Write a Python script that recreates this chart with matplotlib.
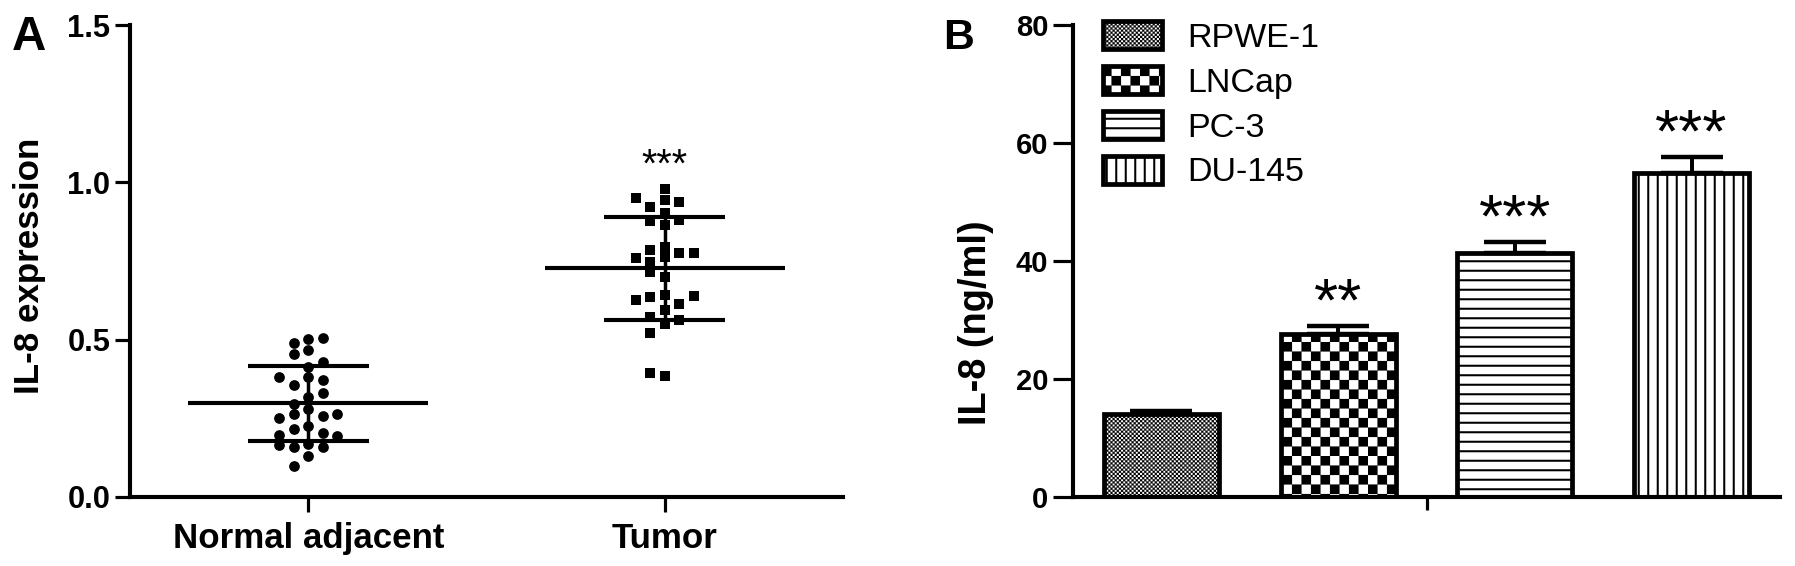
import warnings
import numpy as np
import matplotlib
matplotlib.use('Agg')
from matplotlib import pyplot as plt
from matplotlib import hatch as mhatch
from matplotlib.path import Path

warnings.filterwarnings('ignore', message='hatch must consist')

# panel A: IL-8 expression per sample
groups = ['Normal adjacent', 'Tumor']
normal_adjacent = [0.501, 0.467, 0.488, 0.504, 0.454, 0.414, 0.430, 0.380, 0.356, 0.372,
                   0.382, 0.319, 0.329, 0.296, 0.279, 0.263, 0.257, 0.226, 0.250, 0.263,
                   0.215, 0.202, 0.197, 0.168, 0.160, 0.160, 0.165, 0.194, 0.130, 0.099]
tumor = [0.978, 0.944, 0.922, 0.938, 0.949, 0.903, 0.877, 0.864, 0.880, 0.795,
         0.785, 0.774, 0.762, 0.748, 0.758, 0.776, 0.700, 0.716, 0.642, 0.636,
         0.612, 0.626, 0.639, 0.594, 0.573, 0.562, 0.550, 0.520, 0.385, 0.393]

# panel B: IL-8 secretion per cell line
cell_lines = ['RPWE-1', 'LNCap', 'PC-3', 'DU-145']
il8_mean = [14.0, 27.6, 41.4, 54.9]
il8_err = [0.5, 1.4, 1.8, 2.7]
bar_stars = ['', '**', '***', '***']


class CheckerHatch(mhatch.HatchPatternBase):
    # 'c' -> filled checkerboard, 6 cells per inch per 'c'
    def __init__(self, hatch, density):
        self.n = 2 * (hatch.count('c') * density // 2)
        self.num_vertices = self.n * self.n // 2 * 5

    def set_vertices_and_codes(self, vertices, codes):
        n = self.n
        sq = np.array([[0, 0], [1, 0], [1, 1], [0, 1], [0, 0]], float) / n
        cells = [sq + [i / n, j / n] for i in range(n) for j in range(n) if (i + j) % 2 == 0]
        vertices[:] = np.concatenate(cells)
        codes[:] = np.tile([Path.MOVETO, Path.LINETO, Path.LINETO, Path.LINETO,
                            Path.CLOSEPOLY], len(cells))


mhatch._hatch_types.append(CheckerHatch)


def swarm(vals, dy, dx):
    placed = []
    offs = []
    for v in vals:
        for k in [0, -1, 1, -2, 2, -3, 3, -4, 4]:
            if all(abs(v - pv) >= dy for pk, pv in placed if pk == k):
                break
        placed.append((k, v))
        offs.append(k * dx)
    return np.array(offs)


DPI = 114
W, H = 1795, 566
plt.rcParams['font.family'] = 'Liberation Sans'
plt.rcParams['hatch.linewidth'] = 1.2

fig = plt.figure(figsize=(W / DPI, H / DPI), dpi=DPI)


def box(l, t, r, b):
    return [l / W, 1 - b / H, (r - l) / W, (b - t) / H]


axA = fig.add_axes(box(130, 25, 843, 497))
axB = fig.add_axes(box(1073, 25, 1780, 497))

for i, (vals, mk, ms) in enumerate(zip([normal_adjacent, tumor], ['o', 's'], [46, 42])):
    vals = np.array(vals)
    xs = i + swarm(vals, 0.032, 0.0406)
    axA.scatter(xs, vals, marker=mk, s=ms, color='black', linewidths=0, zorder=3)
    m, sd = vals.mean(), vals.std(ddof=1)
    axA.hlines(m, i - 0.336, i + 0.336, color='black', lw=2.6, zorder=4)
    axA.hlines([m - sd, m + sd], i - 0.17, i + 0.17, color='black', lw=2.6, zorder=4)
    axA.vlines(i, m - sd, m + sd, color='black', lw=2.2, zorder=4)

axA.text(1, max(tumor) + 0.04, '***', ha='center', va='baseline', fontsize=25)

axA.set_xlim(-0.5, 1.5)
axA.set_ylim(0, 1.5)
axA.set_xticks(range(len(groups)))
axA.set_xticklabels(groups, fontsize=22, fontweight='bold')
axA.set_yticks([0, 0.5, 1.0, 1.5])
axA.set_yticklabels(['0.0', '0.5', '1.0', '1.5'], fontsize=19.5, fontweight='bold')
axA.tick_params(axis='y', length=9.5, width=2, pad=3)
axA.tick_params(axis='x', length=9.5, width=2, pad=6)
axA.set_ylabel('IL-8 expression', fontsize=22, fontweight='bold')
axA.yaxis.set_label_coords(-0.118, 0.49)

# panel B
x = np.arange(len(cell_lines))
bars = axB.bar(x, il8_mean, width=0.65, color='white', edgecolor='black', linewidth=3, zorder=2)
for b, h, hl in zip(bars, ['ccccccccc', 'cc', '--', '||'], [0.1, 0.1, 1.3, 1.3]):
    b.set_hatch(h)
    if hasattr(b, 'set_hatch_linewidth'):
        b.set_hatch_linewidth(hl)

axB.errorbar(x, il8_mean, yerr=[np.zeros(len(x)), il8_err], fmt='none', ecolor='black',
             elinewidth=2.5, capsize=19.5, capthick=2.8, zorder=3)

for xi, mval, err, s in zip(x, il8_mean, il8_err, bar_stars):
    axB.text(xi, mval + err + 1.0, s, ha='center', va='baseline', fontsize=39)

axB.set_xlim(-0.5, 3.5)
axB.set_ylim(0, 80)
axB.set_xticks([1.5])
axB.set_xticklabels([''])
axB.set_yticks(range(0, 81, 20))
axB.set_yticklabels([str(v) for v in range(0, 81, 20)], fontsize=18.5, fontweight='bold')
axB.tick_params(axis='y', length=12.5, width=2, pad=3)
axB.tick_params(axis='x', length=8, width=2)
axB.set_ylabel('IL-8 (ng/ml)', fontsize=24, fontweight='bold')
axB.yaxis.set_label_coords(-0.112, 0.37)

leg = axB.legend(bars, cell_lines, loc='upper left', bbox_to_anchor=(1103 / W, 1 - 21 / H),
                 bbox_transform=fig.transFigure, frameon=False, fontsize=21.5,
                 handlelength=1.74, handleheight=0.88, handletextpad=0.73, labelspacing=0.36,
                 borderpad=0, borderaxespad=0)
for lh, b in zip(leg.legend_handles, bars):
    if hasattr(lh, 'set_hatch_linewidth'):
        lh.set_hatch_linewidth(b.get_hatch_linewidth())

for ax in [axA, axB]:
    for side in ['top', 'right']:
        ax.spines[side].set_visible(False)
    for side in ['left', 'bottom']:
        ax.spines[side].set_linewidth(2.6)
        ax.spines[side].set_zorder(5)

fig.text(12 / W, 1 - 50 / H, 'A', fontsize=30, fontweight='bold', ha='left', va='baseline')
fig.text(943 / W, 1 - 49 / H, 'B', fontsize=27, fontweight='bold', ha='left', va='baseline')

plt.savefig('out.png', dpi=DPI)
